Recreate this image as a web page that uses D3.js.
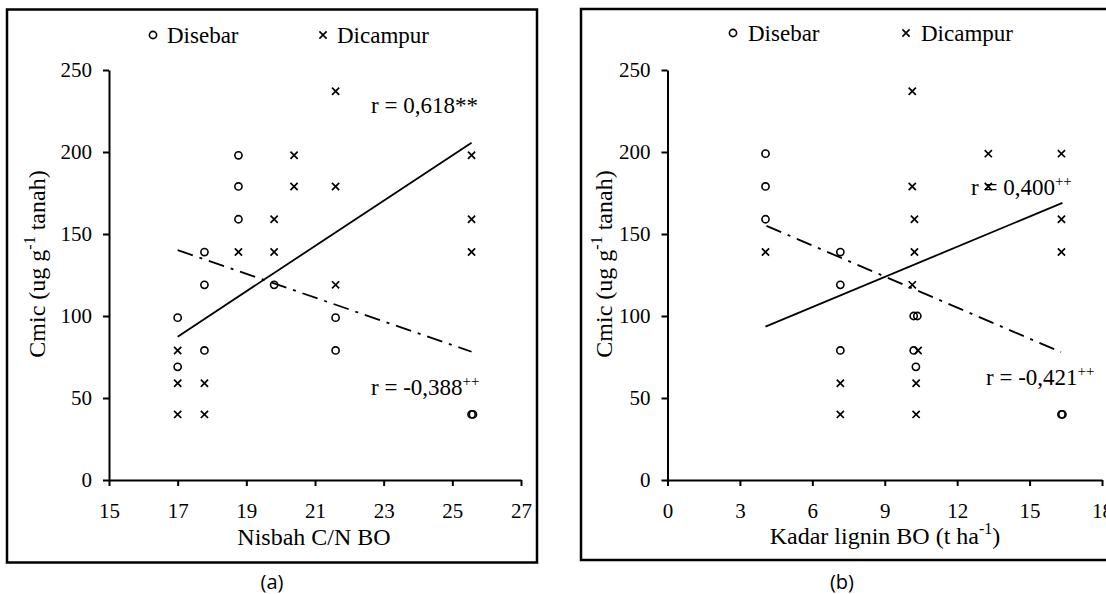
<!DOCTYPE html>
<html>
<head>
<meta charset="utf-8">
<script src="https://cdn.jsdelivr.net/npm/d3@7"></script>
<style>
  html, body { margin: 0; padding: 0; background: #fff; }
  svg { display: block; }
</style>
</head>
<body>
<svg id="chart" width="1106" height="594"></svg>
<script>
// ---------- data ----------
const yTicks = [0, 50, 100, 150, 200, 250];
const xTicksA = [15, 17, 19, 21, 23, 25, 27];
const xTicksB = [0, 3, 6, 9, 12, 15, 18];

// Panel (a): Nisbah C/N BO
const disebarA_x = [17.0, 17.0, 17.78, 17.78, 17.78, 18.77, 18.77, 18.77, 19.81, 21.6, 21.6, 25.56, 25.6];
const disebarA_y = [99, 69, 139, 119, 79, 198, 179, 159, 119, 99, 79, 40, 40];
const dicampurA_x = [17.0, 17.0, 17.0, 17.78, 17.78, 18.77, 19.81, 19.81, 20.39, 20.39, 21.6, 21.6, 21.6, 25.56, 25.56, 25.56];
const dicampurA_y = [79, 59, 40, 59, 40, 139, 159, 139, 198, 179, 237, 179, 119, 198, 159, 139];
const fitSolidA = [[17.0, 87.4], [25.56, 205.7]];
const fitDashA = [[17.0, 140.2], [25.56, 78.2]];

// Panel (b): Kadar lignin BO
const disebarB_x = [4.06, 4.06, 4.06, 7.16, 7.16, 7.16, 10.2, 10.35, 10.2, 10.29, 16.32, 16.36];
const disebarB_y = [199, 179, 159, 139, 119, 79, 100, 100, 79, 69, 40, 40];
const dicampurB_x = [4.06, 7.16, 7.16, 10.14, 10.14, 10.23, 10.23, 10.14, 10.38, 10.3, 10.3, 13.29, 13.29, 16.32, 16.32, 16.32];
const dicampurB_y = [139, 59, 40, 237, 179, 159, 139, 119, 79, 59, 40, 199, 179, 199, 159, 139];
const fitSolidB = [[4.06, 93.5], [16.36, 169]];
const fitDashB = [[4.1, 155], [16.3, 78]];

const seriesNames = ["Disebar", "Dicampur"];

// ---------- drawing ----------
const SERIF = "'Liberation Serif', 'Times New Roman', serif";
const svg = d3.select("#chart");

function txt(sel) {
  return sel.style("font-family", SERIF).style("fill", "#000");
}

function drawPanel(cfg) {
  const g = svg.append("g");
  g.append("rect")
    .attr("x", cfg.frame[0]).attr("y", cfg.frame[1])
    .attr("width", cfg.frame[2]).attr("height", cfg.frame[3])
    .attr("fill", "none").attr("stroke", "#000").attr("stroke-width", 2.5);

  const x = d3.scaleLinear().domain(cfg.xDomain).range(cfg.xRange);
  const y = d3.scaleLinear().domain([0, 250]).range([480, 70]);

  const xAxis = g.append("g").attr("transform", `translate(0,${y(0)})`)
    .call(d3.axisBottom(x).tickValues(cfg.xTicks).tickSize(6).tickSizeOuter(0).tickPadding(17));
  const yAxis = g.append("g").attr("transform", `translate(${x(cfg.xDomain[0])},0)`)
    .call(d3.axisLeft(y).tickValues(yTicks).tickSize(6).tickSizeOuter(0).tickPadding(11));
  [xAxis, yAxis].forEach(a => {
    a.selectAll("path.domain").attr("stroke", "#000").attr("stroke-width", 2);
    a.selectAll(".tick line").attr("stroke", "#000").attr("stroke-width", 2);
    txt(a.selectAll(".tick text")).style("font-size", "21px");
  });

  const line = d3.line().x(d => x(d[0])).y(d => y(d[1]));
  g.append("path").attr("d", line(cfg.fitSolid))
    .attr("fill", "none").attr("stroke", "#000").attr("stroke-width", 1.8);
  g.append("path").attr("d", line(cfg.fitDash))
    .attr("fill", "none").attr("stroke", "#000").attr("stroke-width", 1.8)
    .attr("stroke-dasharray", "16,7,3,7");

  const circ = cfg.dsX.map((v, i) => [v, cfg.dsY[i]]);
  const crs = cfg.dcX.map((v, i) => [v, cfg.dcY[i]]);
  g.selectAll("circle.pt").data(circ).enter().append("circle")
    .attr("cx", d => x(d[0])).attr("cy", d => y(d[1])).attr("r", 3.6)
    .attr("fill", "none").attr("stroke", "#000").attr("stroke-width", 1.6);
  const s = 3.6;
  g.selectAll("path.cross").data(crs).enter().append("path")
    .attr("d", d => {
      const cx = x(d[0]), cy = y(d[1]);
      return `M${cx - s},${cy - s}L${cx + s},${cy + s}M${cx - s},${cy + s}L${cx + s},${cy - s}`;
    })
    .attr("stroke", "#000").attr("stroke-width", 1.7).attr("fill", "none");

  const L = cfg.legend;
  g.append("circle").attr("cx", L.c[0]).attr("cy", L.c[1]).attr("r", 3.6)
    .attr("fill", "none").attr("stroke", "#000").attr("stroke-width", 1.6);
  txt(g.append("text").attr("x", L.t1).attr("y", L.base)).style("font-size", "23px").text(seriesNames[0]);
  const lx = L.x[0], ly = L.x[1];
  g.append("path").attr("d", `M${lx - s},${ly - s}L${lx + s},${ly + s}M${lx - s},${ly + s}L${lx + s},${ly - s}`)
    .attr("stroke", "#000").attr("stroke-width", 1.7);
  txt(g.append("text").attr("x", L.t2).attr("y", L.base)).style("font-size", "23px").text(seriesNames[1]);

  cfg.notes.forEach(n => {
    const t = txt(g.append("text").attr("x", n.x).attr("y", n.y)).style("font-size", "23px");
    t.append("tspan").style("fill", "#000").text(n.main);
    if (n.sup) t.append("tspan").attr("dy", -9).style("font-size", "15px").style("fill", "#000").text(n.sup);
  });

  const yt = txt(g.append("text")
    .attr("transform", `translate(${cfg.yTitle[0]},${cfg.yTitle[1]}) rotate(-90)`)
    .attr("text-anchor", "middle")).style("font-size", "24px");
  yt.append("tspan").style("fill", "#000").text("Cmic (ug g");
  yt.append("tspan").attr("dy", -10).style("font-size", "16px").style("fill", "#000").text("-1");
  yt.append("tspan").attr("dy", 10).style("fill", "#000").text(" tanah)");

  const xt = txt(g.append("text").attr("x", cfg.xTitle[0]).attr("y", cfg.xTitle[1])
    .attr("text-anchor", "middle")).style("font-size", "24px");
  cfg.xTitleParts.forEach(p => {
    const sp = xt.append("tspan").style("fill", "#000").text(p.t);
    if (p.sup) sp.attr("dy", -10).style("font-size", "16px");
    if (p.down) sp.attr("dy", 10);
  });

  g.append("text").attr("x", cfg.caption[0]).attr("y", cfg.caption[1])
    .attr("text-anchor", "middle")
    .style("font-family", "'Open Sans', sans-serif").style("font-size", "20px").style("fill", "#000")
    .text(cfg.captionText);
}

drawPanel({
  frame: [7, 9.5, 530, 553],
  xDomain: [15, 27], xRange: [109, 521], xTicks: xTicksA,
  dsX: disebarA_x, dsY: disebarA_y, dcX: dicampurA_x, dcY: dicampurA_y,
  fitSolid: fitSolidA, fitDash: fitDashA,
  legend: { c: [153, 35], t1: 167, x: [323, 35], t2: 337, base: 43 },
  notes: [
    { x: 371, y: 113, main: "r = 0,618**", sup: "" },
    { x: 371, y: 395, main: "r = -0,388", sup: "++" }
  ],
  yTitle: [45, 264],
  xTitle: [314, 545], xTitleParts: [{ t: "Nisbah C/N BO" }],
  caption: [272, 589], captionText: "(a)"
});

drawPanel({
  frame: [581, 9, 545, 551],
  xDomain: [0, 18], xRange: [667.5, 1102], xTicks: xTicksB,
  dsX: disebarB_x, dsY: disebarB_y, dcX: dicampurB_x, dcY: dicampurB_y,
  fitSolid: fitSolidB, fitDash: fitDashB,
  legend: { c: [733, 33], t1: 748, x: [906, 33], t2: 921, base: 41 },
  notes: [
    { x: 971, y: 195, main: "r = 0,400", sup: "++" },
    { x: 986, y: 385, main: "r = -0,421", sup: "++" }
  ],
  yTitle: [612, 264],
  xTitle: [885, 544], xTitleParts: [{ t: "Kadar lignin BO (t ha" }, { t: "-1", sup: true }, { t: ")", down: true }],
  caption: [842, 589], captionText: "(b)"
});
</script>
</body>
</html>
